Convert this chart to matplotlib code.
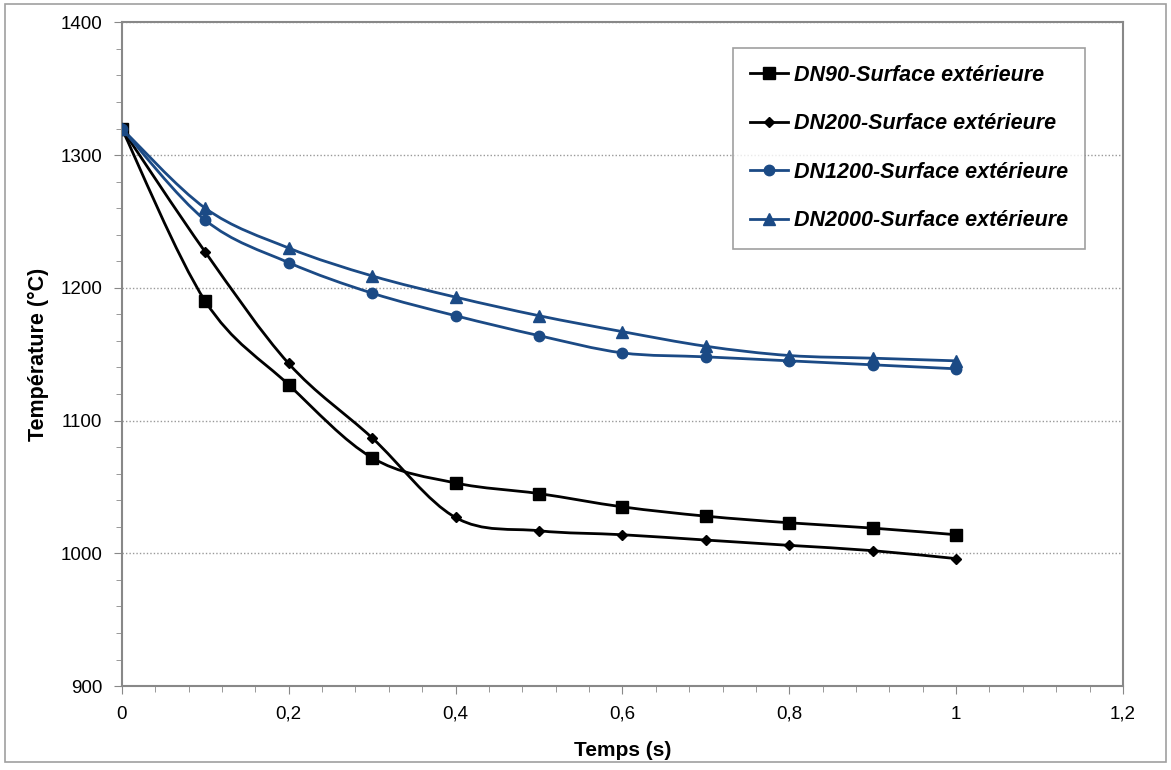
import numpy as np
import matplotlib
matplotlib.use("Agg")
import matplotlib.pyplot as plt
from matplotlib.path import Path
from matplotlib.patches import PathPatch, Rectangle
from matplotlib.lines import Line2D
from matplotlib.ticker import MultipleLocator, FuncFormatter

plt.rcParams['font.family'] = ['Liberation Sans', 'DejaVu Sans']

# Data
temps = [0, 0.1, 0.2, 0.3, 0.4, 0.5, 0.6, 0.7, 0.8, 0.9, 1.0]
dn90 = [1320, 1190, 1127, 1072, 1053, 1045, 1035, 1028, 1023, 1019, 1014]
dn200 = [1320, 1227, 1143, 1087, 1027, 1017, 1014, 1010, 1006, 1002, 996]
dn1200 = [1320, 1251, 1219, 1196, 1179, 1164, 1151, 1148, 1145, 1142, 1139]
dn2000 = [1320, 1260, 1230, 1209, 1193, 1179, 1167, 1156, 1149, 1147, 1145]
labels = ['DN90-Surface extérieure', 'DN200-Surface extérieure',
          'DN1200-Surface extérieure', 'DN2000-Surface extérieure']

BLUE = '#1b4a85'
series = [
    (dn90, 'black', 's', 9),
    (dn200, 'black', 'D', 5.5),
    (dn1200, BLUE, 'o', 7.5),
    (dn2000, BLUE, '^', 8),
]


def smooth_path(x, y):
    # Excel-like smoothed line: cubic bezier through each point
    x = np.asarray(x, float)
    y = np.asarray(y, float)
    n = len(x)
    verts = [(x[0], y[0])]
    codes = [Path.MOVETO]
    for i in range(n - 1):
        i0 = max(i - 1, 0)
        i3 = min(i + 2, n - 1)
        c1 = (x[i] + (x[i + 1] - x[i0]) / 6, y[i] + (y[i + 1] - y[i0]) / 6)
        c2 = (x[i + 1] - (x[i3] - x[i]) / 6, y[i + 1] - (y[i3] - y[i]) / 6)
        verts += [c1, c2, (x[i + 1], y[i + 1])]
        codes += [Path.CURVE4] * 3
    return Path(verts, codes)


fig = plt.figure(figsize=(11.71, 7.70), dpi=100)
fig.patches.append(Rectangle((0.004, 0.01), 0.992, 0.985, transform=fig.transFigure,
                             fill=False, edgecolor='#a0a0a0', linewidth=1.2))
ax = fig.add_axes([0.104, 0.109, 0.855, 0.862])

for vals, col, mk, ms in series:
    ax.add_patch(PathPatch(smooth_path(temps, vals), facecolor='none',
                           edgecolor=col, linewidth=2, zorder=3))
    ax.plot(temps, vals, linestyle='none', marker=mk, markersize=ms,
            color=col, zorder=4)

ax.set_xlim(0, 1.2)
ax.set_ylim(900, 1400)
ax.xaxis.set_major_locator(MultipleLocator(0.2))
ax.xaxis.set_minor_locator(MultipleLocator(0.04))
ax.yaxis.set_major_locator(MultipleLocator(100))
ax.yaxis.set_minor_locator(MultipleLocator(20))
ax.xaxis.set_major_formatter(FuncFormatter(lambda v, p: ('%g' % round(v, 2)).replace('.', ',')))
ax.tick_params(which='both', direction='out', color='#888888', labelsize=13.5, pad=8)
ax.tick_params(which='major', length=6)
ax.tick_params(which='minor', length=4)
for s in ax.spines.values():
    s.set_color('#888888')
    s.set_linewidth(1.5)
ax.yaxis.grid(True, which='major', linestyle=(0, (1, 1.5)), color='#999999', linewidth=1)
ax.set_axisbelow(True)

ax.set_xlabel('Temps (s)', fontsize=15, fontweight='bold', labelpad=13)
ax.set_ylabel('Température (°C)', fontsize=15.5, fontweight='bold', labelpad=8)

handles = [Line2D([], [], color=col, marker=mk, markersize=ms, linewidth=2)
           for vals, col, mk, ms in series]
leg = ax.legend(handles, labels, loc='upper left', bbox_to_anchor=(0.61, 0.962),
                prop={'weight': 'bold', 'style': 'italic', 'size': 15.5},
                frameon=True, fancybox=False, edgecolor='#888888',
                labelspacing=1.28, handlelength=1.8, handletextpad=0.25,
                borderpad=0.8, borderaxespad=0)
leg.get_frame().set_linewidth(1.2)

fig.savefig('out.png', dpi=100)
